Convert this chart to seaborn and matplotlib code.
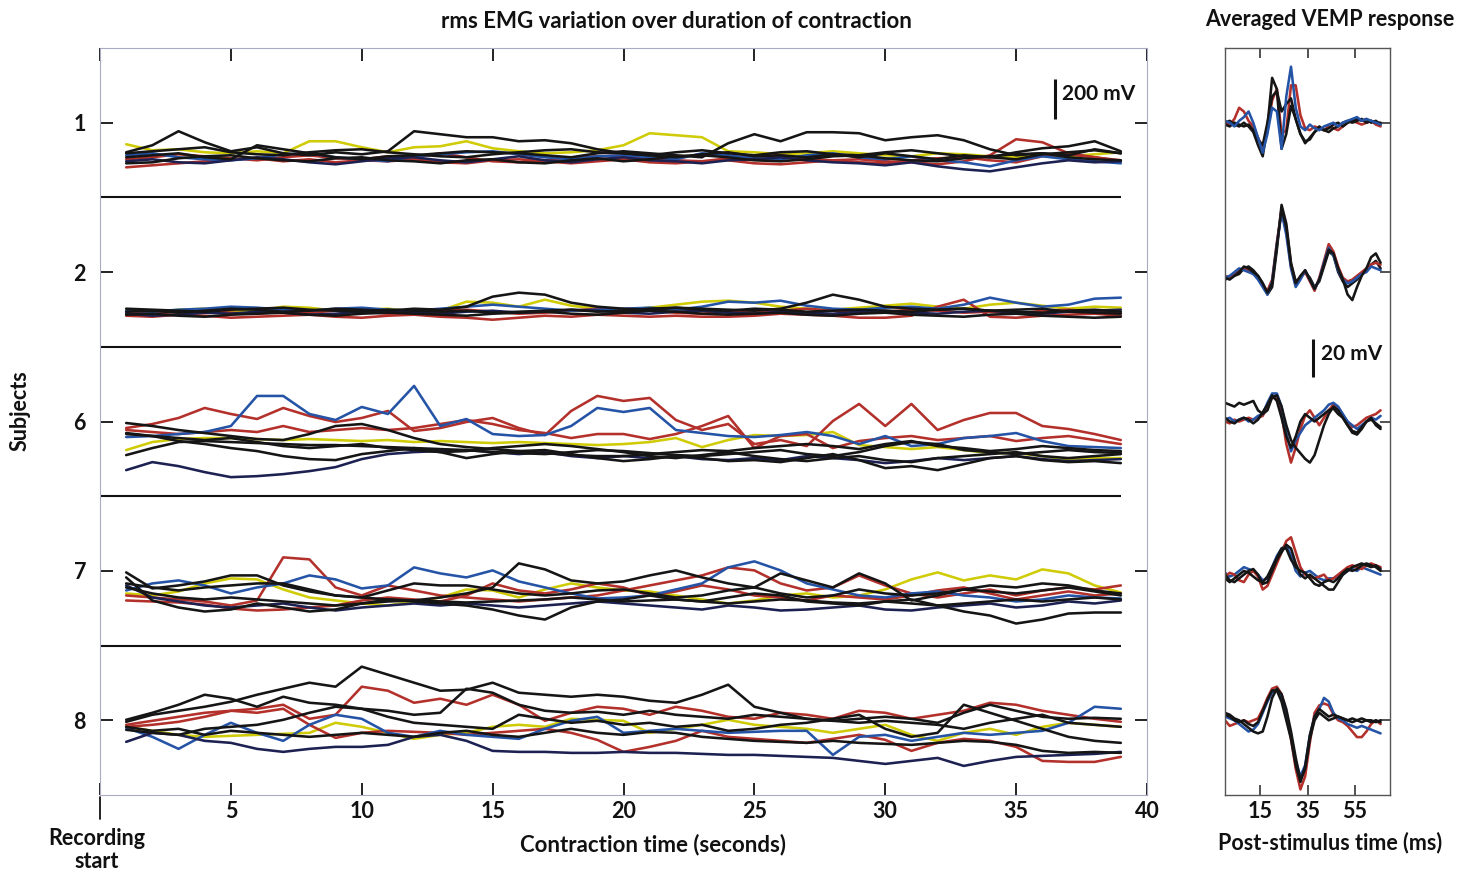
import numpy as np
import matplotlib
matplotlib.use("Agg")
import matplotlib.pyplot as plt
import seaborn as sns

sns.set_theme(style="white")
plt.rcParams["font.family"] = ["Lato", "DejaVu Sans"]

# ---------------- data ----------------
subjects = ["1", "2", "6", "7", "8"]
time_s = list(range(1, 40))                 # contraction time (s)
vemp_time_ms = list(range(0, 68, 2))        # post-stimulus time (ms)
x_ticks = [0, 5, 10, 15, 20, 25, 30, 35, 40]
x_tick_labels = ["", "5", "10", "15", "20", "25", "30", "35", "40"]
vemp_ticks = [15, 35, 55]

YELLOW = "#cfcb06"
RED = "#b3302b"
BLUE = "#2553a6"
NAVY = "#1c2152"
BLACK = "#151515"

# rms EMG (mV above the row's zero line)
s1_yellow = [265,235,240,225,220,230,220,280,280,250,225,250,255,280,245,230,220,225,235,260,320,310,300,230,225,215,220,230,220,210,205,220,215,205,200,210,205,215,225]
s1_red_a = [150,160,170,180,190,195,180,190,175,185,180,190,175,170,185,190,180,170,180,190,175,170,180,185,170,165,175,185,190,180,175,165,180,210,290,275,220,200,185]
s1_red_b = [190,200,215,205,195,185,200,210,195,190,205,200,220,200,180,175,185,195,205,210,195,185,180,195,205,210,190,185,175,170,185,195,200,185,175,205,215,200,180]
s1_blue = [210,220,200,190,185,195,215,220,200,190,180,205,215,225,230,215,200,190,205,210,200,190,220,210,195,190,210,220,200,190,205,185,175,155,185,205,190,180,170]
s1_navy = [180,190,175,170,185,200,190,175,165,180,195,200,185,175,190,205,185,175,190,200,185,180,170,185,190,200,185,175,170,160,175,155,140,130,150,170,185,175,180]
s1_black_a = [225,260,330,275,230,250,220,210,225,215,230,330,315,300,300,280,285,270,240,220,210,200,215,225,205,210,200,215,200,220,205,190,210,200,190,215,225,235,220]
s1_black_b = [200,210,220,200,190,260,240,220,200,190,205,210,220,230,225,220,210,200,220,230,220,210,200,270,315,280,325,325,320,285,300,310,285,240,210,220,210,240,220]
s1_black_c = [220,230,240,250,225,215,210,225,235,240,225,215,205,200,215,225,235,240,225,220,210,225,235,220,210,225,230,215,210,225,235,220,205,200,225,245,255,280,230]
s1_black_d = [170,175,195,205,210,195,185,180,195,200,185,180,170,185,190,175,170,185,195,180,190,205,210,200,185,180,190,205,210,195,185,180,195,205,215,220,200,190,185]

s2_yellow = [180,170,185,190,175,180,200,195,180,185,190,175,180,225,220,200,235,205,190,185,195,210,225,230,220,200,190,185,195,205,215,200,190,210,220,205,190,200,195]
s2_red_a = [155,150,160,155,145,150,155,160,150,145,155,160,150,145,135,145,155,150,160,155,150,155,150,150,155,165,160,155,145,145,155,200,235,150,145,155,160,165,155]
s2_red_b = [170,165,175,180,170,165,175,170,180,175,165,170,180,185,175,165,170,180,190,185,180,170,165,175,170,180,190,180,170,175,185,180,170,175,165,180,185,175,170]
s2_blue = [180,175,185,190,200,195,185,180,190,195,185,180,190,200,210,200,190,180,185,190,195,185,200,225,220,230,205,190,185,195,200,190,210,245,220,200,210,240,245]
s2_navy = [165,155,160,170,165,175,170,160,165,175,180,170,165,175,180,170,175,185,180,170,165,175,180,170,165,175,170,165,175,180,170,165,175,180,170,165,175,180,185]
s2_black_a = [175,180,170,180,190,185,175,180,190,185,180,190,185,200,250,270,260,220,200,190,185,195,190,185,180,190,220,260,235,200,190,185,190,180,185,190,175,170,165]
s2_black_b = [160,165,155,150,160,165,170,160,155,165,170,165,160,155,165,170,175,165,160,170,180,175,165,160,165,170,160,155,165,170,160,155,150,160,165,155,150,145,150]
s2_black_c = [190,185,180,175,185,190,195,185,180,175,185,180,175,180,170,175,180,185,175,180,190,195,185,180,190,185,175,180,185,180,175,185,190,180,175,170,180,185,175]

s6_navy = [130,170,150,120,95,100,110,125,145,185,210,220,225,230,220,210,220,200,190,200,190,200,185,180,190,180,200,190,180,165,175,190,180,190,200,185,175,180,185]
s6_blue = [295,300,310,320,350,500,500,410,380,445,410,550,350,385,310,300,305,350,440,420,440,330,315,300,295,305,320,300,260,300,250,260,290,300,315,275,250,245,240]
s6_red_a = [340,360,390,440,410,385,440,400,370,390,425,325,340,370,390,340,305,425,500,475,490,380,330,360,260,280,250,375,460,350,460,330,380,415,415,350,335,310,280]
s6_red_b = [330,320,310,320,330,320,350,320,330,340,330,340,360,380,360,330,315,290,310,310,285,310,350,400,240,300,310,240,275,290,300,280,290,300,275,290,300,280,260]
s6_yellow = [230,270,285,290,290,285,280,285,280,275,280,270,275,270,265,270,265,260,255,260,270,290,245,280,305,300,305,320,255,245,235,245,230,215,215,200,180,190,190]
s6_black_a = [365,350,330,315,300,285,280,310,350,360,330,290,260,245,235,225,215,205,200,200,210,220,230,225,240,250,260,250,235,260,275,250,240,225,235,250,240,230,225]
s6_black_b = [315,300,275,260,240,225,200,185,180,210,225,240,220,190,210,225,230,210,190,175,185,200,190,175,180,170,190,210,180,140,150,130,160,190,200,180,170,175,165]
s6_black_c = [205,240,270,275,270,265,260,255,255,250,245,240,235,230,220,215,210,220,230,225,215,205,200,210,220,230,210,200,220,250,270,260,230,220,210,220,230,220,215]
s6_black_d = [310,300,290,280,290,270,250,240,250,260,240,230,220,225,240,250,260,250,235,220,200,190,205,220,200,185,175,190,200,180,170,190,200,210,220,200,190,200,210]

s7_red_a = [250,240,230,220,200,225,440,430,290,250,300,275,250,240,230,220,230,240,250,275,300,325,350,390,375,310,275,290,350,300,260,240,260,280,250,275,290,280,300]
s7_red_b = [225,220,215,205,185,175,180,190,200,225,240,230,220,250,310,275,260,280,310,290,250,270,300,280,250,240,225,250,240,230,250,275,290,260,230,250,270,250,260]
s7_blue = [275,310,325,300,260,290,310,350,330,285,300,390,360,340,375,320,290,260,235,240,250,280,310,390,420,375,310,280,250,240,260,270,250,240,220,230,250,240,235]
s7_navy = [300,240,220,200,190,200,210,190,175,190,200,210,200,210,200,190,200,210,220,210,200,190,180,200,190,175,180,190,200,180,175,190,200,210,190,200,220,210,225]
s7_yellow = [260,250,270,310,335,330,280,240,225,210,200,220,240,280,275,240,280,310,290,275,270,250,230,210,225,250,260,240,250,280,330,365,325,350,330,380,360,300,265]
s7_black_a = [365,285,300,320,350,350,300,270,250,240,230,225,240,260,290,410,380,325,310,320,350,375,340,310,290,360,325,290,360,310,225,250,280,300,290,310,300,275,260]
s7_black_b = [340,225,190,170,180,210,190,170,180,210,230,220,210,200,180,150,130,190,220,230,250,230,220,240,260,250,220,210,200,220,230,200,170,150,110,130,160,165,165]
s7_black_c = [310,290,275,290,300,310,310,280,250,240,275,310,300,300,280,260,250,260,275,280,260,240,250,275,290,260,240,250,280,260,250,260,280,270,260,275,290,270,250]
s7_black_d = [290,260,240,230,240,230,220,210,200,210,220,225,220,215,220,225,230,240,230,220,225,230,220,210,220,230,225,215,210,220,210,200,210,220,230,220,230,240,230]

s8_black_a = [365,400,420,440,465,500,530,560,540,640,600,560,520,525,560,510,500,490,500,490,470,460,500,550,440,410,380,370,380,390,380,360,410,450,420,390,380,385,380]
s8_black_b = [375,410,450,500,480,440,490,460,450,430,420,400,410,530,510,450,420,410,415,400,420,400,390,380,400,390,380,370,360,370,360,350,330,360,380,400,360,350,340]
s8_red_a = [350,370,390,410,420,430,450,380,400,540,520,460,480,450,500,450,370,410,440,430,400,440,420,390,380,410,400,380,420,410,380,400,420,460,450,420,400,380,365]
s8_red_b = [340,350,365,390,420,410,430,350,285,310,320,315,310,300,310,320,330,310,275,215,240,270,320,290,280,270,260,280,300,275,220,260,280,270,240,170,165,165,190]
s8_blue = [335,290,230,300,360,310,270,350,400,380,310,290,320,300,290,280,330,370,390,310,320,330,320,310,315,320,320,200,290,300,270,290,310,300,310,320,360,440,430]
s8_yellow = [340,320,300,290,295,300,305,310,360,340,310,280,300,310,340,350,340,380,375,370,310,330,350,375,350,340,330,310,330,350,300,270,310,330,300,340,360,350,340]
s8_navy = [265,310,300,270,260,230,215,230,240,240,250,290,300,270,220,215,215,210,210,215,210,210,205,200,200,195,190,185,170,155,170,185,145,170,190,195,200,205,215]
s8_black_c = [325,310,300,330,340,350,375,410,440,430,390,360,350,340,330,400,380,360,370,350,360,340,350,320,330,350,360,380,400,330,290,310,450,410,370,330,290,270,260]
s8_black_d = [340,320,330,300,320,310,300,290,300,310,300,290,310,320,300,290,310,330,310,300,315,310,290,280,270,265,260,270,260,255,250,260,270,265,250,220,210,215,210]

# averaged VEMP responses (mV, relative to the row's baseline)
v1_black_a = [0,1,-1,-2,0,-2,-5,-12,-18,-2,24,18,-14,-6,9,2,-6,-10,-9,-5,-3,-4,-3,-1,0,-2,0,1,2,1,2,0,1,-1]
v1_blue = [1,0,-2,1,3,6,0,-8,-16,-6,8,6,-14,14,30,8,-2,-4,-1,-3,-4,-2,-1,0,-2,0,1,2,3,1,2,1,0,-1]
v1_red = [0,-1,2,8,6,1,-2,-8,-14,-4,12,18,-6,-4,20,20,4,-3,-4,-2,-3,-4,-2,-3,-4,-2,0,1,0,-1,0,1,-1,-2]
v1_black_b = [-1,-2,0,-1,-2,-1,-4,-9,-12,0,14,17,6,10,13,2,-6,-11,-8,-5,-2,-4,-5,-3,-2,0,1,0,1,2,0,1,0,0]

v2_black_a = [-3,-4,-2,0,3,2,0,-2,-6,-11,-6,14,34,24,4,-6,-2,1,-4,-9,-4,4,12,10,2,-4,-12,-15,-8,-2,2,8,10,5]
v2_red = [-2,-3,-1,1,2,1,-1,-3,-7,-10,-4,16,33,22,3,-7,-3,0,-5,-10,-3,6,15,11,3,-3,-5,-4,-2,0,2,4,5,4]
v2_blue = [-3,-2,0,2,1,0,-1,-4,-8,-12,-5,15,32,20,2,-8,-4,1,-4,-9,-4,5,13,9,1,-4,-6,-5,-3,-1,0,3,2,1]
v2_black_b = [-4,-3,-2,-1,2,3,1,-2,-6,-12,-8,12,36,26,5,-5,-3,0,-3,-8,-5,3,11,9,0,-5,-8,-6,-4,-1,1,4,6,2]

v6_black_a = [10,9,8,10,9,10,11,6,4,6,13,14,8,-2,-10,-14,-17,-20,-22,-18,-10,-2,4,8,6,2,-2,-6,-7,-4,0,2,-2,-4]
v6_red = [0,-1,1,0,1,2,1,2,3,8,13,12,4,-12,-22,-14,-4,3,6,2,-2,2,6,9,7,3,0,-3,-2,0,2,3,4,6]
v6_blue = [1,2,0,1,2,0,1,3,4,10,15,15,8,-6,-16,-10,-6,-2,0,2,4,6,9,10,8,4,0,-2,-4,-2,0,2,1,3]
v6_black_b = [2,0,-1,1,2,1,-1,1,5,9,14,11,2,-8,-14,-8,0,4,2,0,2,4,6,7,4,2,-2,-5,-6,-3,0,1,-1,-3]

v7_black_a = [-2,-5,-6,-4,-2,0,1,-2,-7,-6,0,6,10,14,12,4,-2,-4,-2,-4,-6,-8,-10,-10,-6,-2,0,2,3,4,3,2,3,1]
v7_red = [-3,-1,-2,-5,-6,-2,0,-3,-10,-8,-2,4,10,16,18,10,2,-2,-3,-4,-3,-2,-5,-4,-2,0,2,3,2,1,3,4,3,2]
v7_blue = [-1,-3,-2,0,2,1,0,-2,-5,-4,2,8,12,14,8,0,-3,-1,0,-2,-4,-5,-4,-4,-3,-2,0,1,0,2,1,0,-1,-2]
v7_black_b = [-4,-6,-4,-2,0,-1,-3,-5,-6,-3,2,7,12,12,6,2,0,-1,-4,-7,-8,-6,-5,-6,-4,-1,1,0,1,3,4,3,2,0]

v8_black_a = [4,3,1,0,-2,-4,-6,-7,-6,2,12,17,14,6,-6,-20,-32,-26,-10,0,4,2,0,1,2,1,0,-1,0,1,0,-1,0,-1]
v8_red = [0,-3,-2,-1,0,-1,0,1,6,12,17,18,14,4,-10,-26,-37,-30,-12,4,8,9,8,3,0,-1,-3,-6,-9,-9,-6,-2,0,-2]
v8_blue = [2,1,0,-2,-4,-6,-5,-2,4,10,15,16,12,3,-8,-22,-30,-24,-8,2,6,12,10,4,1,0,-2,-3,-4,-3,-4,-5,-6,-7]
v8_black_b = [3,2,0,-1,0,-2,-3,-1,5,11,16,16,10,0,-10,-24,-33,-25,-8,2,6,4,2,3,2,1,0,1,0,-1,0,0,-1,0]

emg_traces = {
    "1": [(YELLOW, s1_yellow), (RED, s1_red_a), (RED, s1_red_b), (BLUE, s1_blue), (NAVY, s1_navy),
          (BLACK, s1_black_a), (BLACK, s1_black_b), (BLACK, s1_black_c), (BLACK, s1_black_d)],
    "2": [(YELLOW, s2_yellow), (RED, s2_red_a), (RED, s2_red_b), (BLUE, s2_blue), (NAVY, s2_navy),
          (BLACK, s2_black_a), (BLACK, s2_black_b), (BLACK, s2_black_c)],
    "6": [(YELLOW, s6_yellow), (RED, s6_red_b), (RED, s6_red_a), (BLUE, s6_blue), (NAVY, s6_navy),
          (BLACK, s6_black_a), (BLACK, s6_black_b), (BLACK, s6_black_c), (BLACK, s6_black_d)],
    "7": [(YELLOW, s7_yellow), (RED, s7_red_a), (RED, s7_red_b), (BLUE, s7_blue), (NAVY, s7_navy),
          (BLACK, s7_black_a), (BLACK, s7_black_b), (BLACK, s7_black_c), (BLACK, s7_black_d)],
    "8": [(YELLOW, s8_yellow), (RED, s8_red_a), (RED, s8_red_b), (BLUE, s8_blue), (NAVY, s8_navy),
          (BLACK, s8_black_a), (BLACK, s8_black_b), (BLACK, s8_black_c), (BLACK, s8_black_d)],
}
vemp_traces = {
    "1": [(RED, v1_red), (BLACK, v1_black_b), (BLACK, v1_black_a), (BLUE, v1_blue)],
    "2": [(BLACK, v2_black_b), (RED, v2_red), (BLUE, v2_blue), (BLACK, v2_black_a)],
    "6": [(RED, v6_red), (BLUE, v6_blue), (BLACK, v6_black_b), (BLACK, v6_black_a)],
    "7": [(BLUE, v7_blue), (RED, v7_red), (BLACK, v7_black_b), (BLACK, v7_black_a)],
    "8": [(RED, v8_red), (BLUE, v8_blue), (BLACK, v8_black_b), (BLACK, v8_black_a)],
}

EMG_MV_PER_ROW = 745.0    # vertical scale of the EMG panel
VEMP_MV_PER_ROW = 80.0    # vertical scale of the VEMP panel

# ---------------- figure ----------------
W, H = 1458, 877
fig = plt.figure(figsize=(W / 100, H / 100), dpi=100)
fig.patch.set_facecolor("white")

def fx(px):
    return px / W

def fy(py):
    return 1 - py / H

ax = fig.add_axes([fx(100), fy(795), fx(1147) - fx(100), fy(48) - fy(795)])
axv = fig.add_axes([fx(1225), fy(795), fx(1390) - fx(1225), fy(48) - fy(795)])

LW = 1.85
for i, subj in enumerate(subjects):
    row = i + 1
    for color, vals in emg_traces[subj]:
        y = row + 0.5 - np.asarray(vals, dtype=float) / EMG_MV_PER_ROW
        sns.lineplot(x=time_s, y=y, color=color, lw=LW, ax=ax, legend=False,
                     estimator=None, sort=False)
    for color, vals in vemp_traces[subj]:
        y = row - np.asarray(vals, dtype=float) / VEMP_MV_PER_ROW
        sns.lineplot(x=vemp_time_ms, y=y, color=color, lw=LW, ax=axv, legend=False,
                     estimator=None, sort=False)

# separators between subjects
ax.hlines([1.5, 2.5, 3.5, 4.5], 0, time_s[-1], color="#111111", lw=1.5)

# main axes style
ax.set_xlim(0, 40)
ax.set_ylim(5.5, 0.5)
ax.set_xticks(x_ticks)
ax.set_xticklabels(x_tick_labels)
ax.set_yticks(range(1, len(subjects) + 1))
ax.set_yticklabels(subjects)
ax.set_xlabel("")
ax.set_ylabel("")
for side in ["left", "bottom", "top", "right"]:
    ax.spines[side].set_visible(True)
    ax.spines[side].set_color("#a9aac4")
    ax.spines[side].set_linewidth(0.8)
ax.tick_params(axis="both", which="both", direction="in", length=9, width=1.3,
               color="#111111", top=True, right=True, bottom=True, left=True,
               labelsize=15.5, labelcolor="#111111")
ax.tick_params(axis="x", pad=4)
ax.tick_params(axis="y", pad=10)
for lab in ax.get_xticklabels() + ax.get_yticklabels():
    lab.set_fontweight("bold")

# "recording start" marker below the origin
ax.plot([0, 0], [5.5 + 2 / 149, 5.5 + 24 / 149], color="#111111", lw=1.3, clip_on=False)

# 200 mV scale bar
bar_x = 36.5
bar_bottom = 1 - 4 / 149
ax.plot([bar_x, bar_x], [bar_bottom, bar_bottom - 200 / EMG_MV_PER_ROW], color="#111111",
        lw=2.2, solid_capstyle="butt")
ax.text(bar_x + 0.25, bar_bottom - 100 / EMG_MV_PER_ROW - 0.03, "200 mV", ha="left", va="center",
        fontsize=15, fontweight="bold", color="#111111")

# VEMP axes style
axv.set_xlim(0, 70)
axv.set_ylim(5.5, 0.5)
axv.set_xticks(vemp_ticks)
axv.set_xticklabels([str(v) for v in vemp_ticks])
axv.set_yticks(range(1, len(subjects) + 1))
axv.set_yticklabels([])
axv.set_xlabel("")
axv.set_ylabel("")
for side in ["left", "bottom", "top", "right"]:
    axv.spines[side].set_visible(True)
    axv.spines[side].set_color("#555555")
    axv.spines[side].set_linewidth(1.0)
axv.tick_params(axis="both", direction="in", length=7, width=1.2, color="#333333",
                top=True, right=True, bottom=True, left=False, labelsize=15.5,
                labelcolor="#111111")
axv.tick_params(axis="x", pad=4)
for lab in axv.get_xticklabels():
    lab.set_fontweight("bold")

# 20 mV scale bar
vb_x = 37.3
vb_bottom = 2.70
axv.plot([vb_x, vb_x], [vb_bottom, vb_bottom - 20 / VEMP_MV_PER_ROW], color="#111111",
         lw=2.2, solid_capstyle="butt")
axv.text(vb_x + 3.5, vb_bottom - 10 / VEMP_MV_PER_ROW - 0.03, "20 mV", ha="left", va="center",
         fontsize=15, fontweight="bold", color="#111111")

# texts
FS = 16
fig.text(fx(676), fy(21), "rms EMG variation over duration of contraction", ha="center",
         va="center", fontsize=FS, fontweight="bold", color="#111111")
fig.text(fx(1330), fy(20), "Averaged VEMP response", ha="center", va="center",
         fontsize=15.5, fontweight="bold", color="#111111")
fig.text(fx(653), fy(845), "Contraction time (seconds)", ha="center", va="center",
         fontsize=FS, fontweight="bold", color="#111111")
fig.text(fx(1330), fy(843), "Post-stimulus time (ms)", ha="center", va="center",
         fontsize=15.5, fontweight="bold", color="#111111")
fig.text(fx(97), fy(850), "Recording\nstart", ha="center", va="center", fontsize=15.5,
         fontweight="bold", color="#111111", linespacing=1.15)
fig.text(fx(20), fy(411), "Subjects", ha="center", va="center", rotation=90,
         fontsize=15.5, fontweight="bold", color="#111111")

fig.savefig("out.png", dpi=100, facecolor="white")
